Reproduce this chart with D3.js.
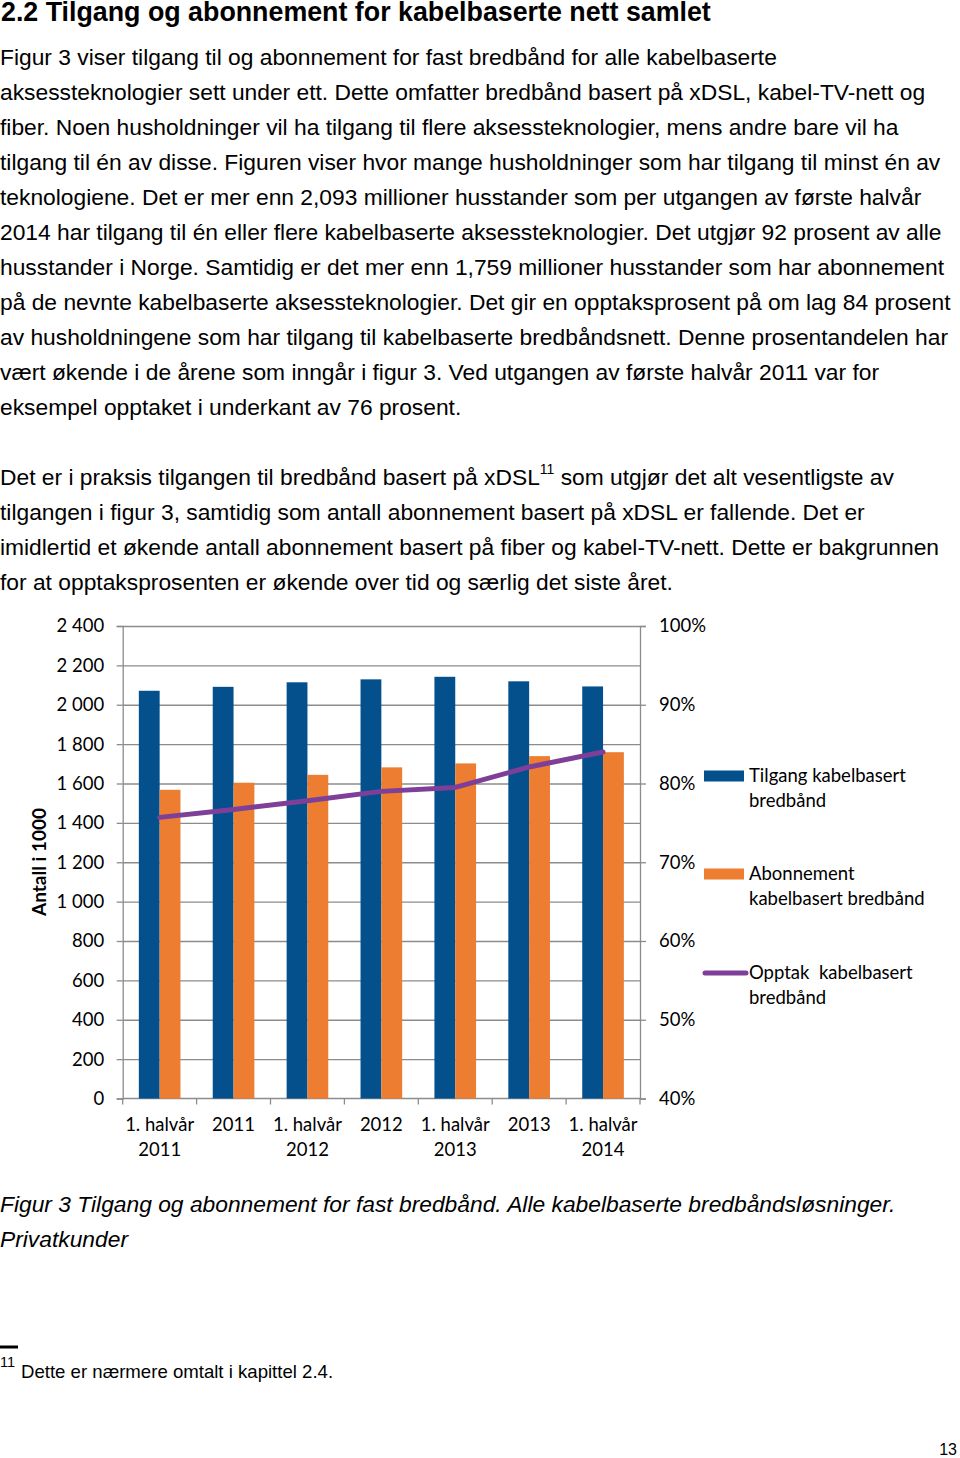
<!doctype html>
<html>
<head>
<meta charset="utf-8">
<title>Figur 3</title>
<script src="https://d3js.org/d3.v7.min.js"></script>
<style>
  body { margin: 0; background: #fff; }
  svg { display: block; }
  .body-text { font-family: "Liberation Sans", Arial, sans-serif; font-size: 22.8px; fill: #000; }
  .chart-text { font-family: Lato, "Open Sans", sans-serif; font-size: 18.5px; fill: #000; }
  .axis path, .axis line { stroke: #8c8c8c; stroke-width: 1.3; }
</style>
</head>
<body>
<script>
// chart data
var categories = ["1. halvår\n2011", "2011", "1. halvår\n2012", "2012", "1. halvår\n2013", "2013", "1. halvår\n2014"];
var tilgang = [2071, 2091, 2114, 2129, 2142, 2119, 2093];
var abonnement = [1568, 1604, 1644, 1682, 1702, 1739, 1759];
var opptak = [75.7, 76.7, 77.8, 79.0, 79.5, 82.1, 84.0];
var leftTicks = [0, 200, 400, 600, 800, 1000, 1200, 1400, 1600, 1800, 2000, 2200, 2400];
var rightTicks = [40, 50, 60, 70, 80, 90, 100];
var seriesNames = ["Tilgang kabelbasert\nbredbånd", "Abonnement\nkabelbasert bredbånd", "Opptak  kabelbasert\nbredbånd"];
var colors = ["#03508c", "#ed7d31", "#7e3f98"];

var para1 = [
  "Figur 3 viser tilgang til og abonnement for fast bredbånd for alle kabelbaserte",
  "aksessteknologier sett under ett. Dette omfatter bredbånd basert på xDSL, kabel-TV-nett og",
  "fiber. Noen husholdninger vil ha tilgang til flere aksessteknologier, mens andre bare vil ha",
  "tilgang til én av disse. Figuren viser hvor mange husholdninger som har tilgang til minst én av",
  "teknologiene. Det er mer enn 2,093 millioner husstander som per utgangen av første halvår",
  "2014 har tilgang til én eller flere kabelbaserte aksessteknologier. Det utgjør 92 prosent av alle",
  "husstander i Norge. Samtidig er det mer enn 1,759 millioner husstander som har abonnement",
  "på de nevnte kabelbaserte aksessteknologier. Det gir en opptaksprosent på om lag 84 prosent",
  "av husholdningene som har tilgang til kabelbaserte bredbåndsnett. Denne prosentandelen har",
  "vært økende i de årene som inngår i figur 3. Ved utgangen av første halvår 2011 var for",
  "eksempel opptaket i underkant av 76 prosent."
];
var para2 = [
  "tilgangen i figur 3, samtidig som antall abonnement basert på xDSL er fallende. Det er",
  "imidlertid et økende antall abonnement basert på fiber og kabel-TV-nett. Dette er bakgrunnen",
  "for at opptaksprosenten er økende over tid og særlig det siste året."
];

var svg = d3.select("body").append("svg").attr("width", 960).attr("height", 1458);

// page text
svg.append("text").attr("class", "body-text").attr("x", 1).attr("y", 21)
  .style("font-size", "26.8px").style("font-weight", "bold")
  .text("2.2 Tilgang og abonnement for kabelbaserte nett samlet");

svg.selectAll(".p1").data(para1).enter().append("text")
  .attr("class", "body-text p1").attr("x", 0)
  .attr("y", function (d, i) { return 65 + i * 35; })
  .text(function (d) { return d; });

var first = svg.append("text").attr("class", "body-text").attr("x", 0).attr("y", 485);
first.append("tspan").text("Det er i praksis tilgangen til bredbånd basert på xDSL");
first.append("tspan").attr("dy", -11).style("font-size", "14px").text("11");
first.append("tspan").attr("dy", 11).text(" som utgjør det alt vesentligste av");

svg.selectAll(".p2").data(para2).enter().append("text")
  .attr("class", "body-text p2").attr("x", 0)
  .attr("y", function (d, i) { return 520 + i * 35; })
  .text(function (d) { return d; });

// chart area
var plotLeft = 122.7, plotRight = 640, plotTop = 626, plotBottom = 1098.5;

var x = d3.scaleBand().domain(categories).range([plotLeft, plotRight]);
var xs = d3.scaleBand().domain([0, 1]).range([0, x.bandwidth()]).paddingInner(0).paddingOuter(0.775);
var y = d3.scaleLinear().domain([0, 2400]).range([plotBottom, plotTop]);
var yr = d3.scaleLinear().domain([40, 100]).range([plotBottom, plotTop]);

var fmt = d3.formatLocale({ thousands: " ", grouping: [3], decimal: ",", currency: ["", ""] }).format(",");

// gridlines
svg.append("g").attr("class", "axis").attr("transform", "translate(" + plotLeft + ",0)")
  .call(d3.axisLeft(y).tickValues(leftTicks.slice(1)).tickSize(-(plotRight - plotLeft)).tickFormat(""))
  .call(function (g) { g.select(".domain").remove(); });

// left axis
svg.append("g").attr("class", "axis").attr("transform", "translate(" + plotLeft + ",0)")
  .call(d3.axisLeft(y).tickValues(leftTicks).tickSize(6).tickPadding(12.5).tickFormat(fmt))
  .call(function (g) {
    g.selectAll("text").attr("class", "chart-text").attr("fill", "#000")
      .style("font-family", "Lato, sans-serif").style("font-size", "18.5px");
  });

// right axis
svg.append("g").attr("class", "axis").attr("transform", "translate(" + plotRight + ",0)")
  .call(d3.axisRight(yr).tickValues(rightTicks).tickSize(6).tickPadding(13).tickFormat(function (d) { return d + "%"; }))
  .call(function (g) {
    g.selectAll("text").attr("class", "chart-text").attr("fill", "#000")
      .style("font-family", "Lato, sans-serif").style("font-size", "18.5px");
  });

// bottom axis
var xAxis = svg.append("g").attr("class", "axis").attr("transform", "translate(0," + plotBottom + ")")
  .call(d3.axisBottom(x).tickSize(0).tickFormat(""))
  .call(function (g) { g.select(".domain").attr("d", "M" + plotLeft + ",0H" + plotRight); });
xAxis.selectAll(".bound").data(categories.concat(["end"])).enter().append("line")
  .attr("x1", function (d) { return d === "end" ? plotRight : x(d); })
  .attr("x2", function (d) { return d === "end" ? plotRight : x(d); })
  .attr("y1", 0).attr("y2", 6);

var xl = svg.selectAll(".xlabel").data(categories).enter().append("text")
  .attr("class", "chart-text").attr("text-anchor", "middle")
  .attr("x", function (d) { return x(d) + x.bandwidth() / 2; })
  .attr("y", 1131);
xl.selectAll("tspan").data(function (d) { return d.split("\n"); }).enter().append("tspan")
  .attr("x", function () { return d3.select(this.parentNode).attr("x"); })
  .attr("dy", function (d, i) { return i * 25; })
  .text(function (d) { return d; });

// bars
var groups = svg.selectAll(".grp").data(categories).enter().append("g")
  .attr("transform", function (d) { return "translate(" + x(d) + ",0)"; });
groups.append("rect")
  .attr("x", xs(0)).attr("width", xs.bandwidth())
  .attr("y", function (d, i) { return y(tilgang[i]); })
  .attr("height", function (d, i) { return plotBottom - y(tilgang[i]); })
  .attr("fill", colors[0]);
groups.append("rect")
  .attr("x", xs(1)).attr("width", xs.bandwidth())
  .attr("y", function (d, i) { return y(abonnement[i]); })
  .attr("height", function (d, i) { return plotBottom - y(abonnement[i]); })
  .attr("fill", colors[1]);

// line
var line = d3.line()
  .x(function (d, i) { return x(categories[i]) + x.bandwidth() / 2; })
  .y(function (d) { return yr(d); });
svg.append("path").datum(opptak).attr("d", line)
  .attr("fill", "none").attr("stroke", colors[2]).attr("stroke-width", 5)
  .attr("stroke-linecap", "round").attr("stroke-linejoin", "round");

// y title
svg.append("text").attr("class", "chart-text")
  .attr("transform", "translate(46,862) rotate(-90)")
  .attr("text-anchor", "middle").style("font-weight", "bold").style("font-size", "19px")
  .text("Antall i 1000");

// legend
var legY = [776, 874, 973];
var leg = svg.selectAll(".leg").data(seriesNames).enter().append("g")
  .attr("transform", function (d, i) { return "translate(704," + legY[i] + ")"; });
leg.each(function (d, i) {
  var g = d3.select(this);
  if (i < 2) {
    g.append("rect").attr("x", 0).attr("y", -5.5).attr("width", 40).attr("height", 11).attr("fill", colors[i]);
  } else {
    g.append("line").attr("x1", 1).attr("x2", 42).attr("y1", 0).attr("y2", 0)
      .attr("stroke", colors[2]).attr("stroke-width", 5).attr("stroke-linecap", "round");
  }
  var t = g.append("text").attr("class", "chart-text").attr("x", 45).attr("y", 6);
  t.selectAll("tspan").data(d.split("\n")).enter().append("tspan")
    .attr("x", 45).attr("dy", function (s, j) { return j * 25; })
    .style("white-space", "pre")
    .text(function (s) { return s; });
});

// caption and footnote
svg.append("text").attr("class", "body-text").attr("x", 0).attr("y", 1212)
  .style("font-style", "italic")
  .text("Figur 3 Tilgang og abonnement for fast bredbånd. Alle kabelbaserte bredbåndsløsninger.");
svg.append("text").attr("class", "body-text").attr("x", 0).attr("y", 1247)
  .style("font-style", "italic").text("Privatkunder");

svg.append("line").attr("x1", 0).attr("x2", 18).attr("y1", 1347).attr("y2", 1347)
  .attr("stroke", "#000").attr("stroke-width", 3);
svg.append("text").attr("class", "body-text").attr("x", 0).attr("y", 1367)
  .style("font-size", "14.5px").text("11");
svg.append("text").attr("class", "body-text").attr("x", 21).attr("y", 1378)
  .style("font-size", "18.6px").text("Dette er nærmere omtalt i kapittel 2.4.");
svg.append("text").attr("class", "body-text").attr("x", 957).attr("y", 1455)
  .attr("text-anchor", "end").style("font-size", "16px").text("13");
</script>
</body>
</html>
